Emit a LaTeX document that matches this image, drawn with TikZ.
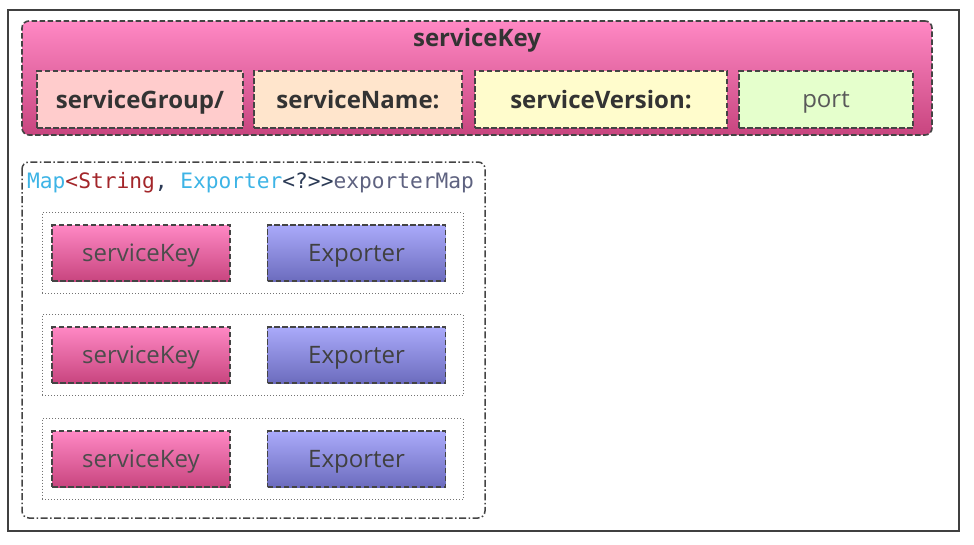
\documentclass[tikz,border=0pt]{standalone}
\usepackage{fontspec}
\setmainfont{Open Sans}
\setmonofont{DejaVu Sans Mono}
\usepackage{tikz}

\definecolor{pinktop}{HTML}{FF88C4}
\definecolor{pinkbot}{HTML}{C8457F}
\definecolor{bluetop}{HTML}{AAAAFA}
\definecolor{bluebot}{HTML}{6C6CBE}
\definecolor{edge}{HTML}{444444}
\definecolor{codecyan}{HTML}{3DB4E6}
\definecolor{codered}{HTML}{A3262A}
\definecolor{codedark}{HTML}{2B3A55}
\definecolor{codegray}{HTML}{5E6280}

\tikzset{
	dashline/.style = {draw = edge, dash pattern = on 5.5pt off 2.5pt, line width = 1.6pt},
	part/.style = {dashline, minimum height = 57pt, inner sep = 0pt, text depth = 0pt,
		font = \fontsize{24}{28}\selectfont\bfseries, text = black!80},
	pinkbox/.style = {dashline, top color = pinktop,
		bottom color = pinkbot, minimum width = 178pt, minimum height = 56pt,
		inner sep = 0pt, text depth = 0pt, font = \fontsize{24}{28}\selectfont, text = black!70},
	bluebox/.style = {pinkbox, top color = bluetop, bottom color = bluebot, text = black!75}
}

\begin{document}
\begin{tikzpicture}[x = 1pt, y = -1pt]
	\fill[white] (0, 0) rectangle (974, 544);
	\useasboundingbox (0, 0) rectangle (974, 544);
	\draw[line width = 1.6pt, black!75] (8, 10) rectangle (959, 531);

	% the key and its four parts
	\node[dashline, rounded corners = 7pt, top color = pinktop,
		bottom color = pinkbot, minimum width = 910pt, minimum height = 114pt] (skey) at (477, 78) {};
	\node[font = \fontsize{24}{28}\selectfont\bfseries, text = black!80, text depth = 0pt] (skeytitle) at (477, 37) {serviceKey};
	\node[part, fill = red!20, minimum width = 206pt] (sgroup) at (140, 99.5) {serviceGroup/};
	\node[part, fill = orange!20, minimum width = 208pt] (sname) at (358, 99.5) {serviceName:};
	\node[part, fill = yellow!20, minimum width = 252pt] (sversion) at (601, 99.5) {serviceVersion:};
	\node[part, fill = {rgb,255:red,229;green,255;blue,204},
		minimum width = 174pt, font = \fontsize{24}{28}\selectfont, text = black!65] (sport) at (826, 99.5) {port};

	% the map
	\draw[edge, line width = 1.5pt, dash pattern = on 7pt off 2.5pt on 1.5pt off 2.5pt, rounded corners = 7pt] (22, 162) rectangle (485, 518);
	\node[anchor = west, inner sep = 0pt, font = \ttfamily\fontsize{21.2}{24}\selectfont] (maplabel) at (27, 183)
		{\textcolor{codecyan}{Map}\textcolor{codered}{<String}\textcolor{codedark}{, }\textcolor{codecyan}{Exporter}\textcolor{codedark}{<?>>}\textcolor{codegray}{exporterMap}};
	\foreach \i/\y in {1/253, 2/355, 3/459} {
		\node[draw = black!55, dotted, line width = 1pt, minimum width = 421pt, minimum height = 81pt] (entry\i) at (252.5, \y) {};
		\node[pinkbox] (key\i) at (141, \y) {serviceKey};
		\node[bluebox] (exp\i) at (356.5, \y) {Exporter};
	}
\end{tikzpicture}
\end{document}
